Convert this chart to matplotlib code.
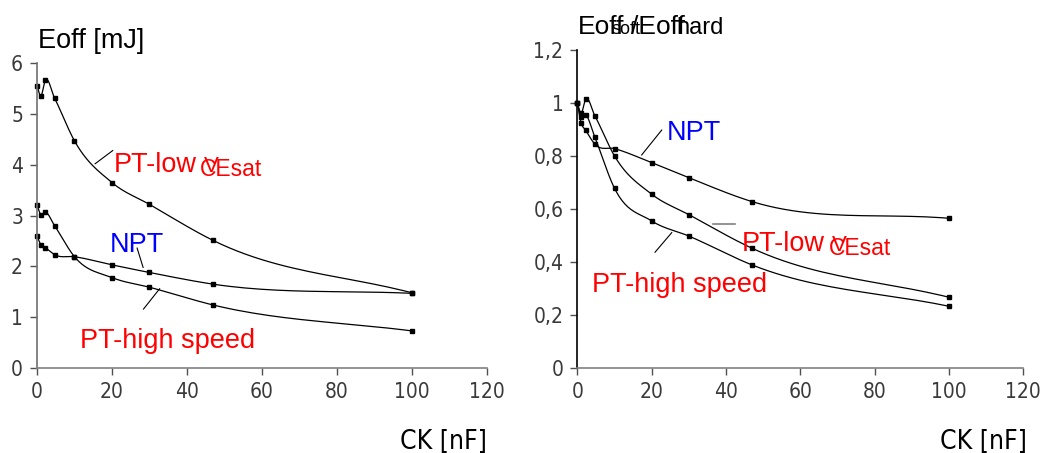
import numpy as np
import matplotlib.pyplot as plt
from matplotlib.ticker import FuncFormatter

# capacitance CK [nF]
ck = [0, 1, 2.2, 4.7, 10, 20, 30, 47, 100]

# left: Eoff [mJ]
eoff_pt_low = [5.56, 5.35, 5.66, 5.31, 4.47, 3.65, 3.22, 2.51, 1.48]
eoff_npt = [2.60, 2.43, 2.37, 2.23, 2.19, 2.03, 1.88, 1.65, 1.47]
eoff_pt_high = [3.21, 3.02, 3.07, 2.80, 2.19, 1.78, 1.59, 1.24, 0.73]

# right: Eoff soft / Eoff hard
rel_pt_low = [1.0, 0.962, 1.015, 0.953, 0.801, 0.657, 0.580, 0.453, 0.268]
rel_npt = [1.0, 0.927, 0.899, 0.846, 0.829, 0.776, 0.719, 0.629, 0.566]
rel_pt_high = [1.0, 0.947, 0.956, 0.872, 0.679, 0.556, 0.499, 0.390, 0.234]

xticks = [0, 20, 40, 60, 80, 100, 120]
left_yticks = [0, 1, 2, 3, 4, 5, 6]
right_yticks = [0, 0.2, 0.4, 0.6, 0.8, 1.0, 1.2]

RED = "#ff0000"
BLUE = "#0000ff"
TXT = ["Liberation Sans", "DejaVu Sans"]
NARROW = ["DejaVu Sans"]


def smooth(x, y, n=25):
    # cubic hermite through the points, just for drawing
    x = np.asarray(x, float)
    y = np.asarray(y, float)
    m = np.gradient(y, x)
    xs, ys = [], []
    for i in range(len(x) - 1):
        h = x[i + 1] - x[i]
        t = np.linspace(0, 1, n, endpoint=False)
        h00 = 2 * t**3 - 3 * t**2 + 1
        h10 = t**3 - 2 * t**2 + t
        h01 = -2 * t**3 + 3 * t**2
        h11 = t**3 - t**2
        xs.append(x[i] + t * h)
        ys.append(h00 * y[i] + h10 * h * m[i] + h01 * y[i + 1] + h11 * h * m[i + 1])
    xs.append([x[-1]])
    ys.append([y[-1]])
    return np.concatenate(xs), np.concatenate(ys)


def curve(ax, x, y):
    sx, sy = smooth(x, y)
    ax.plot(sx, sy, color="black", lw=0.9, clip_on=False)
    ax.plot(x, y, ls="none", marker="s", ms=3.2, color="black", clip_on=False)


def style(ax, ymax, yticks, fmt, left_color):
    ax.set_xlim(0, 120)
    ax.set_ylim(0, ymax)
    ax.set_xticks(xticks)
    ax.set_yticks(yticks)
    ax.yaxis.set_major_formatter(FuncFormatter(fmt))
    for s in ["top", "right"]:
        ax.spines[s].set_visible(False)
    ax.spines["left"].set_color(left_color)
    ax.spines["bottom"].set_color("#808080")
    ax.spines["left"].set_linewidth(1.2)
    ax.spines["bottom"].set_linewidth(1.2)
    ax.tick_params(direction="out", length=5, width=1, colors="#505050",
                   labelsize=15, pad=5)
    for lab in ax.get_xticklabels() + ax.get_yticklabels():
        lab.set_family(NARROW)
        lab.set_stretch("condensed")
        lab.set_weight("light")
        lab.set_color("#3a3a3a")


fig = plt.figure(figsize=(10.45, 4.53), dpi=100)
ax1 = fig.add_axes([0.0354, 0.1876, 0.4306, 0.673])
ax2 = fig.add_axes([0.5525, 0.187, 0.4268, 0.702])

curve(ax1, ck, eoff_pt_low)
curve(ax1, ck, eoff_npt)
curve(ax1, ck, eoff_pt_high)
style(ax1, 6, left_yticks, lambda v, p: "%d" % v, "#707070")

curve(ax2, ck, rel_pt_low)
curve(ax2, ck, rel_npt)
curve(ax2, ck, rel_pt_high)
style(ax2, 1.2, right_yticks,
      lambda v, p: ("%g" % round(v, 1)).replace(".", ","), "black")

# left labels
ax1.text(20.6, 3.86, "PT-low", color=RED, fontsize=19.5, family=TXT)
ax1.text(44.6, 3.86, "V", color=RED, fontsize=16, family=TXT)
ax1.text(43.4, 3.78, "CEsat", color=RED, fontsize=16.5, family=TXT)
ax1.plot([15.5, 20.2], [4.02, 4.28], color="black", lw=0.8)
ax1.text(19.5, 2.28, "NPT", color=BLUE, fontsize=19.5, family=TXT)
ax1.plot([26.7, 28.3], [2.36, 1.98], color="black", lw=0.8)
ax1.text(11.5, 0.39, "PT-high speed", color=RED, fontsize=19.5, family=TXT)
ax1.plot([28.4, 32.7], [1.16, 1.56], color="black", lw=0.8)

# right labels
ax2.text(24.1, 0.861, "NPT", color=BLUE, fontsize=19.5, family=TXT)
ax2.plot([17.3, 22.7], [0.805, 0.899], color="black", lw=0.8)
ax2.text(44.2, 0.442, "PT-low", color=RED, fontsize=19.5, family=TXT)
ax2.text(68.6, 0.442, "V", color=RED, fontsize=16, family=TXT)
ax2.text(67.6, 0.427, "CEsat", color=RED, fontsize=16.5, family=TXT)
ax2.plot([36.4, 42.4], [0.543, 0.543], color="#808080", lw=1.2)
ax2.text(3.9, 0.288, "PT-high speed", color=RED, fontsize=19.5, family=TXT)
ax2.plot([20.9, 25.4], [0.438, 0.512], color="black", lw=0.8)

# titles and axis names
fig.text(38 / 1045, 1 - 48 / 453, "Eoff [mJ]", fontsize=19.5, family=TXT)
fig.text(578 / 1045, 1 - 34 / 453, "Eoff", fontsize=19, family=TXT)
fig.text(611 / 1045, 1 - 34 / 453, "soft", fontsize=13, family=TXT)
fig.text(631 / 1045, 1 - 34 / 453, "/Eoff", fontsize=19, family=TXT)
fig.text(676 / 1045, 1 - 34 / 453, "hard", fontsize=17, family=TXT)
fig.text(400 / 1045, 1 - 449 / 453, "CK [nF]", fontsize=19, family=NARROW,
         stretch="condensed", weight="light")
fig.text(940 / 1045, 1 - 449 / 453, "CK [nF]", fontsize=19, family=NARROW,
         stretch="condensed", weight="light")

fig.savefig("out.png", dpi=100)
